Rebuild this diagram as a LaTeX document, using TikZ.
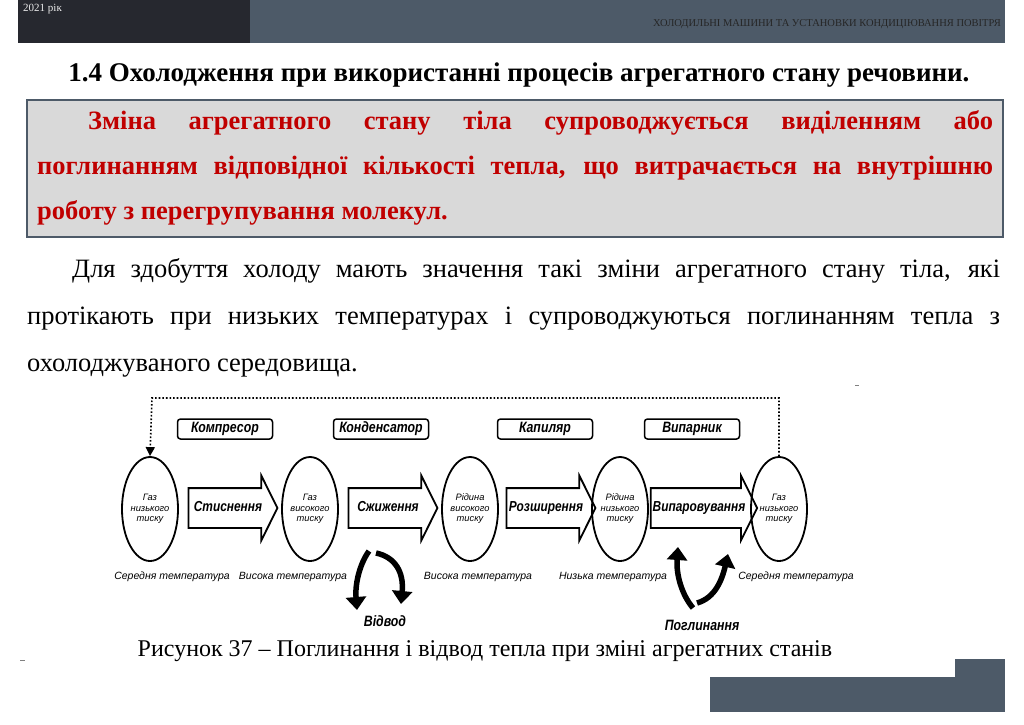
\documentclass[tikz,border=0pt]{standalone}
\usepackage{fontspec}
\setmainfont{Liberation Serif}
\setsansfont{Liberation Sans}
\newfontfamily\diagfont[FakeStretch=0.82]{Liberation Sans}
\usetikzlibrary{shapes.geometric,shapes.arrows,arrows.meta,positioning}
\definecolor{slate}{HTML}{4D5A68}
\definecolor{darkbar}{HTML}{26282F}
\definecolor{boxgray}{HTML}{D9D9D9}
\definecolor{redtext}{HTML}{C00000}
\tikzset{
  state/.style={ellipse, draw, line width=1.8pt, minimum width=56pt, minimum height=104pt,
    inner sep=0pt, align=center, font=\sffamily\itshape\fontsize{9.3}{10.5}\selectfont},
  process/.style={single arrow, draw, line width=1.8pt, minimum height=89pt,
    single arrow head extend=12.5pt, single arrow tip angle=127, inner xsep=1pt, inner ysep=12.5pt,
    text height=10pt, text depth=3pt, font=\diagfont\bfseries\itshape\fontsize{14.5}{16}\selectfont},
  device/.style={draw, rounded corners=3pt, line width=1.5pt, minimum width=95pt, minimum height=20pt,
    inner sep=0pt, font=\diagfont\bfseries\itshape\fontsize{15}{17}\selectfont},
  templabel/.style={font=\sffamily\itshape\fontsize{10.5}{12}\selectfont},
  heatarrow/.style={line width=5.5pt, -{Triangle[length=13pt,width=20pt]}},
  heatlabel/.style={font=\diagfont\bfseries\itshape\fontsize{15}{17}\selectfont},
}
\begin{document}
\begin{tikzpicture}[x=1pt,y=-1pt]
\useasboundingbox (0,0) rectangle (1024,724);
% header and footer bars
\fill[darkbar] (18,0) rectangle (250,43);
\fill[slate] (250,0) rectangle (1005,43);
\node[anchor=north west, inner sep=0pt, text=white!85!gray, font=\fontsize{11}{12}\selectfont] (year) at (23,4) {2021 рік};
\node[anchor=east, inner sep=0pt, text=black!85, font=\fontsize{10.5}{12}\selectfont] (course) at (1001,24) {ХОЛОДИЛЬНІ МАШИНИ ТА УСТАНОВКИ КОНДИЦІЮВАННЯ ПОВІТРЯ};
\fill[slate] (710,677) rectangle (1005,712);
\fill[slate] (955,659) rectangle (1005,677);
% title
\node[font=\bfseries\fontsize{27}{32}\selectfont] (title) at (519,75) {1.4 Охолодження при використанні процесів агрегатного стану речовини.};
% definition box
\draw[draw=slate, line width=1.5pt, fill=boxgray] (27,100) rectangle (1003,237);
\node[anchor=north west, inner sep=0pt, text width=956pt, align=justify, text=redtext,
  font=\bfseries\fontsize{26.5}{45}\selectfont] (definition) at (37,110)
  {\hspace*{51pt}Зміна агрегатного стану тіла супроводжується виділенням або\linebreak
   поглинанням відповідної кількості тепла, що витрачається на внутрішню\linebreak
   роботу з перегрупування молекул.};
% body text
\node[anchor=north west, inner sep=0pt, text width=973pt, align=justify,
  font=\fontsize{26.5}{47}\selectfont] (body) at (27,258)
  {\hspace*{45pt}Для здобуття холоду мають значення такі зміни агрегатного стану тіла, які\linebreak
   протікають при низьких температурах і супроводжуються поглинанням тепла з\linebreak
   охолоджуваного середовища.};
\draw[gray, line width=0.8pt] (855,385) -- (859,385);
\draw[gray, line width=0.8pt] (20,660) -- (25,660);
% states
\node[state] (e1) at (150,509) {Газ\\низького\\тиску};
\node[state] (e2) at (310,509) {Газ\\високого\\тиску};
\node[state] (e3) at (470,509) {Рідина\\високого\\тиску};
\node[state] (e4) at (620,509) {Рідина\\низького\\тиску};
\node[state] (e5) at (779,509) {Газ\\низького\\тиску};
% processes
\node[process] (a1) at (228,508) {Стиснення};
\node[process] (a2) at (388,508) {Сжиження};
\node[process] (a3) at (546,508) {Розширення};
\node[process] (a4) at (699,508) {Випаровування};
% devices
\node[device] (d1) at (225,429) {Компресор};
\node[device] (d2) at (381,429) {Конденсатор};
\node[device] (d3) at (545,429) {Капиляр};
\node[device] (d4) at (692,429) {Випарник};
% return line
\coordinate (loopL) at (152,398);
\draw[dotted, line width=1.6pt, -{Triangle[length=9pt,width=9pt]}] (e5.north) |- (loopL) -- (e1.north);
% temperatures
\node[templabel] (t1) at (172,577) {Середня температура};
\node[templabel] (t2) at (293,577) {Висока температура};
\node[templabel] (t3) at (478,577) {Висока температура};
\node[templabel] (t4) at (613,577) {Низька температура};
\node[templabel] (t5) at (796,577) {Середня температура};
% heat out
\coordinate (outL) at (369,551);
\coordinate (outR) at (376,553);
\node[heatlabel] (out) at (385,621) {Відвод};
\draw[heatarrow] (outL) .. controls (359,565) and (355,585) .. (357,610);
\draw[heatarrow] (outR) .. controls (395,557) and (404,572) .. (401,604);
% heat in
\coordinate (inL) at (693,608);
\coordinate (inR) at (697,603);
\node[heatlabel] (in) at (702,625) {Поглинання};
\draw[heatarrow] (inL) .. controls (682,595) and (676,575) .. (678,547);
\draw[heatarrow] (inR) .. controls (715,598) and (722,580) .. (728,554);
% caption
\node[font=\fontsize{24}{28}\selectfont] (caption) at (485,651) {Рисунок 37 – Поглинання і відвод тепла при зміні агрегатних станів};
\end{tikzpicture}
\end{document}
